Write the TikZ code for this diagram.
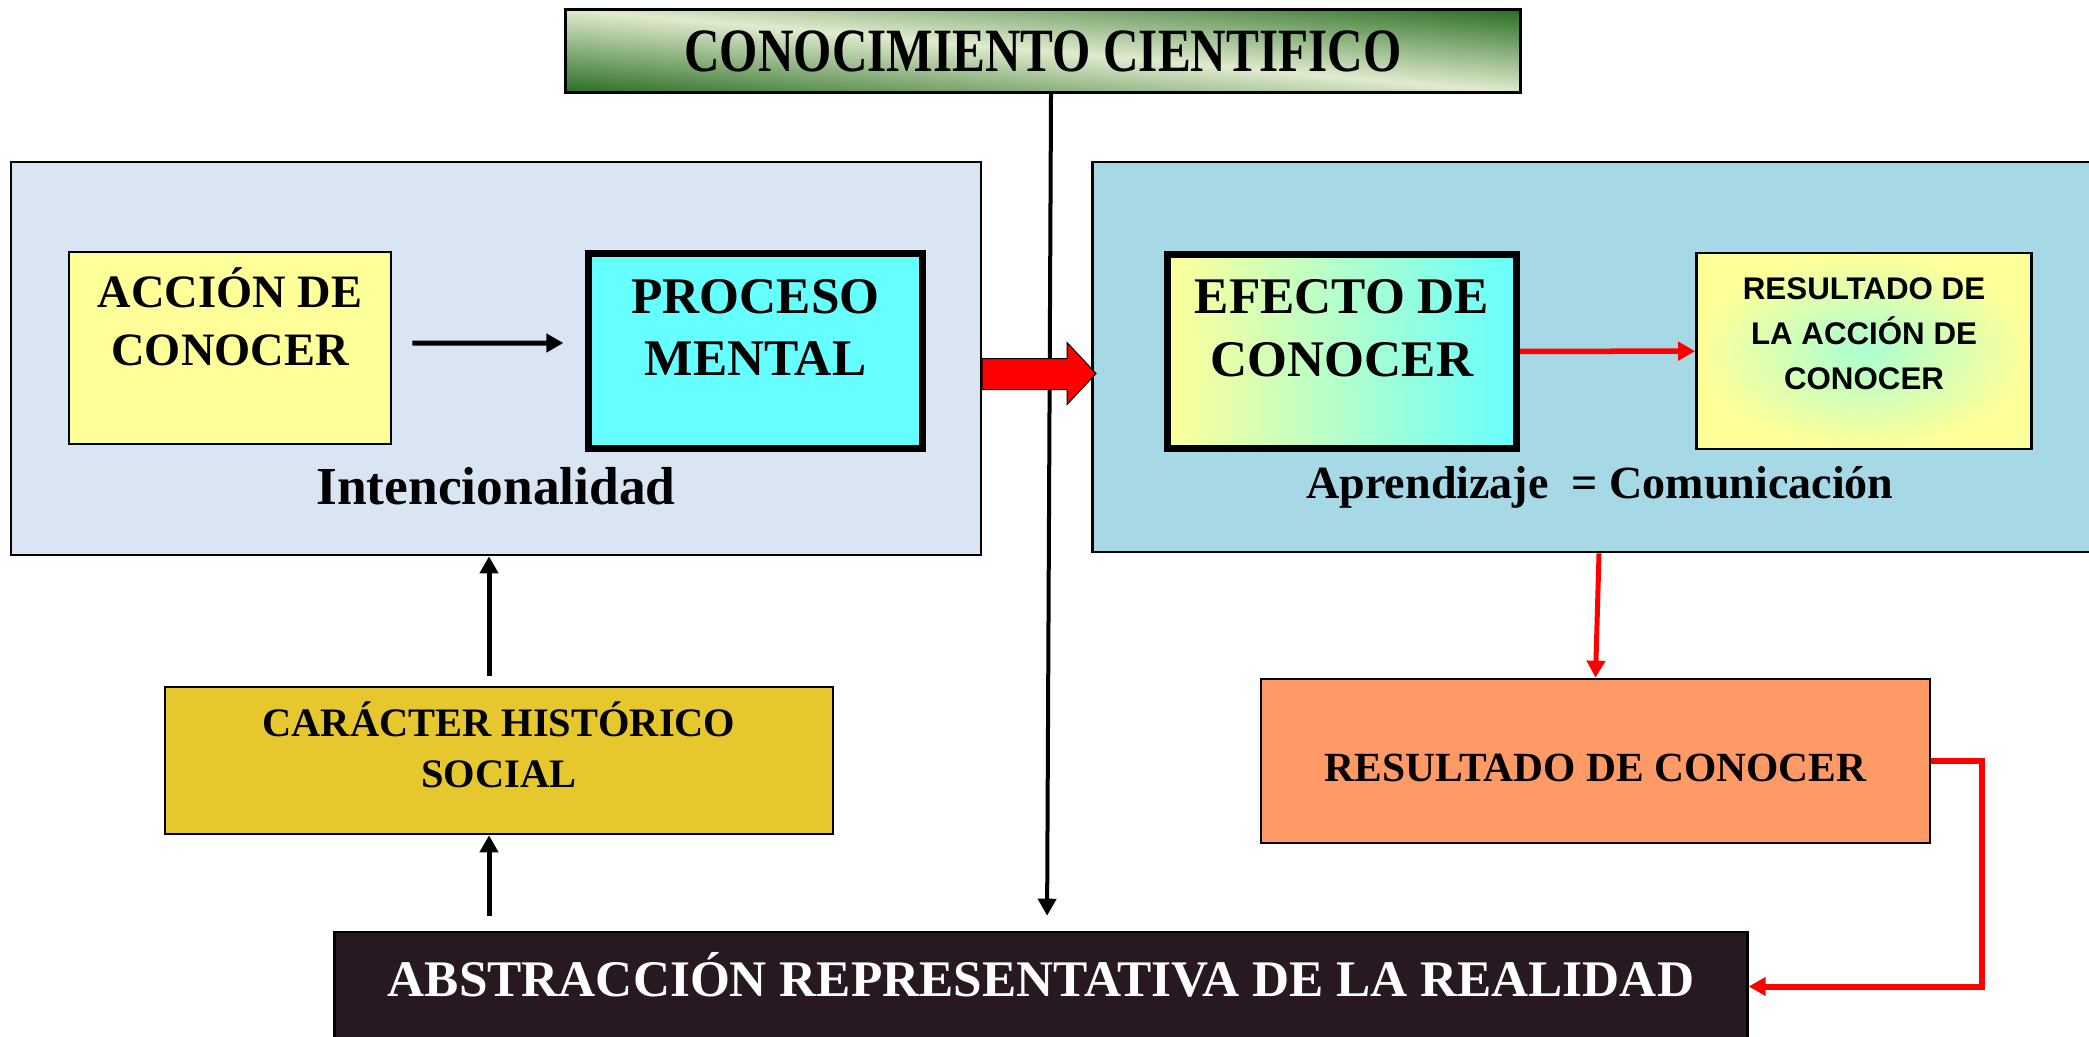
\documentclass[tikz,border=0pt]{standalone}
\usepackage{fontspec}
\setmainfont{Liberation Serif}
\newfontfamily\arialfont{Liberation Sans}
\newfontfamily\titlefont[FakeStretch=0.8]{Liberation Serif}
\usetikzlibrary{arrows.meta}
\definecolor{panelblue}{RGB}{218,229,244}
\definecolor{waterblue}{RGB}{166,216,229}
\definecolor{paleyellow}{RGB}{255,255,153}
\definecolor{brightcyan}{RGB}{102,255,255}
\definecolor{darkgreen}{RGB}{30,102,24}
\definecolor{lightgreen}{RGB}{224,235,206}
\definecolor{gold}{RGB}{230,200,46}
\definecolor{salmon}{RGB}{255,153,102}
\definecolor{nightbrown}{RGB}{40,24,34}
\def\boxtext#1#2#3#4{\parbox[c][#2][t]{#1}{\centering\vspace*{#3}\strut #4}}

\begin{document}
\begin{tikzpicture}[x=0.01cm, y=-0.01cm,
		plainbox/.style={draw=black, line width=0.025cm, inner sep=0pt},
		thickbox/.style={plainbox, line width=0.07cm},
		blackarrow/.style={line width=0.05cm, -{Triangle[length=0.17cm,width=0.18cm]}},
		redarrow/.style={draw=red, line width=0.055cm, -{Triangle[length=0.17cm,width=0.18cm]}}]
		%%%%% START %%%%%
		
		\clip (0,0) rectangle (2089,1036);
		
		\node[plainbox, fill=panelblue, minimum width=9.69cm, minimum height=3.93cm] (leftpanel) at (496,358.5) {};
		\node[plainbox, fill=waterblue, minimum width=10.02cm, minimum height=3.90cm] (rightpanel) at (1594,357) {};
		
		\node[plainbox, line width=0.03cm, minimum width=9.55cm, minimum height=0.82cm, fill=lightgreen,
			path picture={\shade[transform canvas={rotate around={-5:(path picture bounding box.center)}}, top color=darkgreen, bottom color=darkgreen, middle color=lightgreen] ([shift={(-560,-88)}]path picture bounding box.center) rectangle ([shift={(560,88)}]path picture bounding box.center);},
			font=\titlefont\bfseries\fontsize{17.5}{20}\selectfont] (title) at (1043,51) {CONOCIMIENTO CIENTIFICO};
		
		\node[plainbox, fill=paleyellow, font=\bfseries\fontsize{13.2}{16.7}\selectfont] (accion) at (230,348) {\boxtext{3.22cm}{1.92cm}{0.14cm}{ACCIÓN DE\\CONOCER}};
		\node[thickbox, fill=brightcyan, font=\bfseries\fontsize{14.6}{17.9}\selectfont] (proceso) at (755.5,351) {\boxtext{3.34cm}{1.95cm}{0.155cm}{PROCESO\\MENTAL}};
		\node[font=\bfseries\fontsize{15.2}{17}\selectfont, anchor=base] (intencion) at (496,504) {Intencionalidad};
		
		\node[thickbox, left color=paleyellow, right color=brightcyan, font=\bfseries\fontsize{14.6}{18}\selectfont] (efecto) at (1342,351.5) {\boxtext{3.49cm}{1.94cm}{0.145cm}{EFECTO DE\\CONOCER}};
		\node[plainbox, inner color=brightcyan!55!paleyellow, outer color=paleyellow, font=\arialfont\bfseries\fontsize{8.9}{12.8}\selectfont] (accionres) at (1864,351) {\boxtext{3.35cm}{1.96cm}{0.15cm}{RESULTADO DE\\LA ACCIÓN DE\\CONOCER}};
		\node[font=\bfseries\fontsize{13.1}{16}\selectfont, anchor=base] (aprendizaje) at (1600,498) {Aprendizaje\ \ = Comunicación};
		
		\node[plainbox, fill=salmon, font=\bfseries\fontsize{11.8}{14}\selectfont] (resultado) at (1595.5,761) {\boxtext{6.69cm}{1.64cm}{0.685cm}{RESULTADO DE CONOCER}};
		\node[plainbox, fill=gold, font=\bfseries\fontsize{11.5}{14.5}\selectfont] (caracter) at (499,760.5) {\boxtext{6.68cm}{1.47cm}{0.14cm}{CARÁCTER HISTÓRICO\\SOCIAL}};
		\node[plainbox, fill=nightbrown, text=white, font=\bfseries\fontsize{14.6}{17.3}\selectfont] (abstr) at (1041,986.5) {\boxtext{14.12cm}{1.09cm}{0.2cm}{ABSTRACCIÓN REPRESENTATIVA DE LA REALIDAD}};
		
		\draw[blackarrow, line width=0.04cm, shorten >=0.15cm] ([xshift=0.08cm]title.south) -- ([xshift=0.06cm]abstr.north);
		\draw[blackarrow, shorten <=0.2cm, shorten >=0.215cm] ([yshift=0.05cm]accion.east) -- ([yshift=0.08cm]proceso.west);
		
		\draw[fill=red, line width=0.01cm] (leftpanel.east) -- ++(85,0) -- ++(0,-16) -- ++(29,31) -- ++(-29,31) -- ++(0,-15) -- ++(-85,0) -- cycle;
		
		\draw[redarrow] (efecto) -- (accionres);
		\draw[redarrow, line width=0.05cm] ([xshift=0.05cm]rightpanel.south) -- (resultado.north);
		\draw[redarrow, line width=0.06cm] (resultado.east) -- ++(51,0) |- (abstr.east);
		
		\draw[blackarrow, shorten <=0.1cm] ([xshift=-0.1cm]caracter.north) -- ([xshift=-0.1cm]caracter.north |- leftpanel.south);
		\draw[blackarrow, shorten <=0.15cm] ([xshift=-0.1cm]caracter.south |- abstr.north) -- ([xshift=-0.1cm]caracter.south);
		
		%%%%% END %%%%%
	\end{tikzpicture}
\end{document}
